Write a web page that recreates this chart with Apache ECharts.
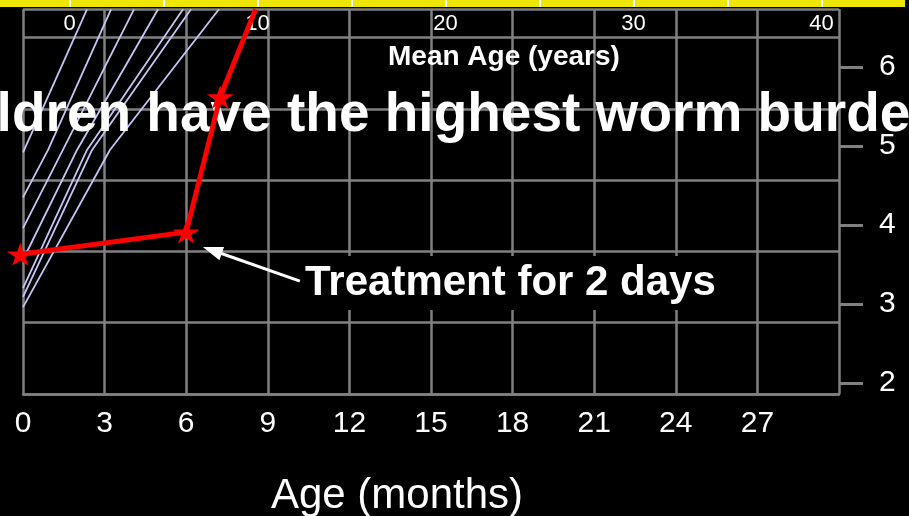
<!DOCTYPE html>
<html><head><meta charset="utf-8">
<script src="https://cdn.jsdelivr.net/npm/echarts@6/dist/echarts.min.js"></script>
<style>html,body{margin:0;padding:0;background:#000}#c{width:909px;height:516px}</style>
</head><body><div id="c"></div>
<script>
// ---- data ----
const monthRange = [0, 30];
const yearTicks = [0, 10, 20, 30, 40];
const bandTicks = [0, 5, 10, 15, 20, 25, 30, 35, 40];
const rightRange = [2, 6];
const treatmentMonths = [-0.1, 6, 7.25, 8.55];
const treatmentValues = [3.63, 3.91, 5.62, 6.73];
// cohort lines: [mean age (years), value]
const cohortA = [[0.93, 6.73], [-2.47, 4.92]];
const cohortB = [[2.21, 6.73], [-1.14, 4.95], [-2.47, 4.35]];
const cohortC = [[3.43, 6.73], [-0.35, 4.95], [-2.47, 3.96]];
const cohortD = [[4.71, 6.73], [0.40, 4.95], [-2.47, 3.56]];
const cohortE = [[6.04, 6.73], [0.93, 4.95], [-2.47, 3.20]];
const cohortF = [[6.46, 6.73], [1.20, 4.95], [-2.47, 3.09]];
const cohortG = [[7.95, 6.73], [2.15, 4.95], [-2.47, 2.96]];
const arrowTail = [10.18, 3.29];
const arrowHead = [6.96, 3.68];
const titleText = 'Children have the highest worm burden';
const topAxisName = 'Mean Age (years)';
const bottomAxisName = 'Age (months)';
const annotationText = 'Treatment for 2 days';

// ---- chart ----
const FONT = '"Liberation Sans", Arial, sans-serif';
const GRID = '#808080';
const star = 'path://M50,0 L61,35 L98,35 L68,57 L79,91 L50,70 L21,91 L32,57 L2,35 L39,35 Z';
const chart = echarts.init(document.getElementById('c'), null, {renderer: 'canvas'});
const cohorts = [cohortA, cohortB, cohortC, cohortD, cohortE, cohortF, cohortG];

const series = cohorts.map(d => ({
  type: 'line', xAxisIndex: 1, yAxisIndex: 1, data: d, symbol: 'none', silent: true,
  lineStyle: {color: '#c6c6f6', width: 1.8}, z: 2
}));
series.push({
  type: 'line', xAxisIndex: 0, yAxisIndex: 1, clip: false, z: 10,
  data: treatmentMonths.map((m, i) => i === treatmentMonths.length - 1
    ? {value: [m, treatmentValues[i]], symbol: 'none'}
    : [m, treatmentValues[i]]),
  symbol: star, symbolSize: [27, 23], showAllSymbol: true,
  itemStyle: {color: '#ff0000'}, lineStyle: {color: '#ff0000', width: 5}
});
series.push({
  type: 'line', xAxisIndex: 0, yAxisIndex: 1, data: [], z: 9,
  markLine: {
    silent: true, animation: false,
    symbol: ['none', 'triangle'], symbolSize: [14, 20],
    lineStyle: {color: '#ffffff', width: 3, type: 'solid'},
    label: {show: false},
    data: [[{coord: arrowTail}, {coord: arrowHead}]]
  }
});

chart.setOption({
  backgroundColor: '#000',
  animation: false,
  grid: [
    {left: 23, right: 70, top: 9, bottom: 122, outerBoundsMode: 'none', containLabel: false},
    {left: 0, top: 0, width: 905, height: 7, show: true, backgroundColor: '#efe600', borderWidth: 0, outerBoundsMode: 'none', containLabel: false},
    {left: 23, right: 70, top: 67, bottom: 133, outerBoundsMode: 'none', containLabel: false}
  ],
  xAxis: [
    {gridIndex: 0, type: 'value', min: monthRange[0], max: monthRange[1], interval: 3, position: 'bottom',
     axisLine: {show: true, onZero: false, lineStyle: {color: GRID, width: 2.5}}, axisTick: {show: false},
     axisLabel: {color: '#fff', fontSize: 30, fontFamily: FONT, margin: 15, formatter: v => v === 30 ? '' : String(v)},
     splitLine: {show: true, lineStyle: {color: GRID, width: 2.5}},
     name: bottomAxisName, nameLocation: 'middle', nameGap: 81,
     nameTextStyle: {color: '#fff', fontSize: 42, fontFamily: FONT, padding: [0, 68, 0, 0]}},
    {gridIndex: 0, type: 'value', min: -2.473, max: 40.93, position: 'top',
     axisLine: {show: false, onZero: false}, axisTick: {show: false}, splitLine: {show: false},
     axisLabel: {inside: true, customValues: yearTicks, color: '#fff', fontSize: 22, fontFamily: FONT, margin: 4}},
    {gridIndex: 1, type: 'value', min: -3.697, max: 44.44, position: 'bottom',
     axisLine: {show: false, onZero: false}, axisLabel: {show: false}, splitLine: {show: false},
     axisTick: {show: true, inside: true, length: 7, customValues: bandTicks, lineStyle: {color: '#fff', width: 2}}},
    {gridIndex: 2, type: 'value', min: 0, max: 1, show: false}
  ],
  yAxis: [
    {gridIndex: 0, type: 'value', min: 0, max: 5.4, interval: 1, position: 'left',
     axisLine: {show: false, onZero: false}, axisTick: {show: false}, axisLabel: {show: false},
     splitLine: {show: true, lineStyle: {color: GRID, width: 2.5}}},
    {gridIndex: 0, type: 'value', min: 1.861, max: 6.734, position: 'right', show: false},
    {gridIndex: 1, type: 'value', min: 0, max: 1, show: false},
    {gridIndex: 2, type: 'value', min: rightRange[0], max: rightRange[1], interval: 1, position: 'right',
     axisLine: {show: false, onZero: false}, splitLine: {show: false},
     axisTick: {show: true, length: 24, lineStyle: {color: GRID, width: 3}},
     axisLabel: {color: '#fff', fontSize: 30, fontFamily: FONT, margin: 40}}
  ],
  graphic: [
    {type: 'text', x: -92, y: 116, z: 5, silent: true,
     style: {text: titleText, fill: '#fff', font: 'bold 55px ' + FONT, align: 'left', verticalAlign: 'middle'}},
    {type: 'text', x: 388, y: 57, z: 5, silent: true,
     style: {text: topAxisName, fill: '#fff', font: 'bold 28px ' + FONT, align: 'left', verticalAlign: 'middle'}},
    {type: 'text', x: 303, y: 283, z: 6, silent: true,
     style: {text: annotationText, fill: '#fff', font: 'bold 42px ' + FONT, align: 'left', verticalAlign: 'middle',
             backgroundColor: '#000', padding: [0, 2, 12, 2]}}
  ],
  series: series
});
</script>
</body></html>
